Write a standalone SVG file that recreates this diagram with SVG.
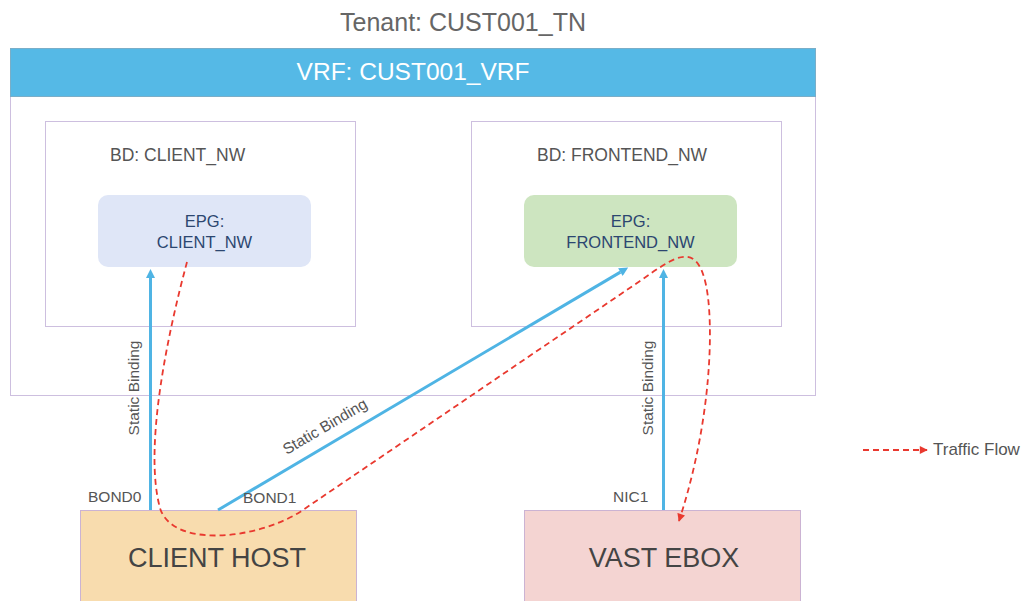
<svg xmlns="http://www.w3.org/2000/svg" width="1024" height="601" viewBox="0 0 1024 601">
  <style>
    text { font-family: "Liberation Sans", Arial, sans-serif; }
    .frame { fill: #ffffff; stroke: #cdbfdf; stroke-width: 1; }
    .bd-label { font-size: 17.5px; fill: #555555; }
    .epg-label { font-size: 16.5px; fill: #2c4670; text-anchor: middle; }
    .host-label { font-size: 27px; fill: #444444; text-anchor: middle; }
    .small { font-size: 15.5px; fill: #555555; }
    .bind { stroke: #4fb4e4; stroke-width: 3; fill: none; marker-end: url(#blueHead); }
    .flow { stroke: #e9392f; stroke-width: 1.8; fill: none; stroke-dasharray: 6 4; marker-end: url(#redHead); }
  </style>
  <defs>
    <marker id="blueHead" viewBox="0 0 10 10" refX="0" refY="5" markerWidth="10" markerHeight="9" markerUnits="userSpaceOnUse" orient="auto">
      <path d="M0,0 L10,5 L0,10 z" fill="#4fb4e4"/>
    </marker>
    <marker id="redHead" viewBox="0 0 10 10" refX="9" refY="5" markerWidth="9" markerHeight="8" markerUnits="userSpaceOnUse" orient="auto">
      <path d="M0,0 L10,5 L0,10 z" fill="#e9392f"/>
    </marker>
  </defs>

  <rect width="1024" height="601" fill="#ffffff"/>

  <!-- tenant title -->
  <text x="463" y="31" font-size="25" fill="#666666" text-anchor="middle">Tenant: CUST001_TN</text>

  <!-- VRF container -->
  <g id="vrf">
    <rect class="frame" x="10.5" y="48.5" width="805" height="347"/>
    <rect x="10.5" y="48.5" width="805" height="48" fill="#55b9e6" stroke="#7aaec8" stroke-width="1"/>
    <text x="413" y="80" font-size="24.5" fill="#ffffff" text-anchor="middle">VRF: CUST001_VRF</text>
  </g>

  <!-- bridge domains -->
  <g id="bd-client">
    <rect class="frame" x="45.5" y="121.5" width="310" height="205"/>
    <text class="bd-label" x="110" y="161">BD: CLIENT_NW</text>
  </g>
  <g id="bd-frontend">
    <rect class="frame" x="471.5" y="121.5" width="310" height="205"/>
    <text class="bd-label" x="537" y="161">BD: FRONTEND_NW</text>
  </g>

  <!-- endpoint groups -->
  <g id="epg-client">
    <rect x="98" y="195" width="213" height="72" rx="10" fill="#dfe6f7"/>
    <text class="epg-label" x="204.5" y="227">EPG:</text>
    <text class="epg-label" x="204.5" y="248">CLIENT_NW</text>
  </g>
  <g id="epg-frontend">
    <rect x="524" y="195" width="213" height="72" rx="10" fill="#cde5c0"/>
    <text class="epg-label" x="630.5" y="227">EPG:</text>
    <text class="epg-label" x="630.5" y="248">FRONTEND_NW</text>
  </g>

  <!-- hosts -->
  <g id="client-host">
    <rect x="80.5" y="510.5" width="276" height="100" fill="#f8dcae" stroke="#cbb3d3" stroke-width="1"/>
    <text class="host-label" x="217" y="567">CLIENT HOST</text>
  </g>
  <g id="vast-ebox">
    <rect x="524.5" y="510.5" width="276" height="100" fill="#f4d4d2" stroke="#cbb3d3" stroke-width="1"/>
    <text class="host-label" x="664" y="567">VAST EBOX</text>
  </g>

  <!-- connectors -->
  <g id="connectors">
    <line class="bind" x1="150.5" y1="510" x2="150.5" y2="278"/>
    <line class="bind" x1="218" y1="510" x2="620.4" y2="272.1"/>
    <line class="bind" x1="663.5" y1="510" x2="663.5" y2="278"/>
    <path class="flow" d="M187,262 C166,340 144,450 160,508 C172,548 255,540 300,512 L640,281 C672,259 696,238 706,285 C714,323 712,420 679,521"/>

    <text class="small" transform="translate(139,388) rotate(-90)" text-anchor="middle">Static Binding</text>
    <text class="small" transform="translate(327.5,431) rotate(-30.5)" text-anchor="middle">Static Binding</text>
    <text class="small" transform="translate(653,388) rotate(-90)" text-anchor="middle">Static Binding</text>

    <text class="small" x="88" y="502">BOND0</text>
    <text class="small" x="243" y="503">BOND1</text>
    <text class="small" x="613" y="502">NIC1</text>
  </g>

  <!-- legend -->
  <g id="legend">
    <line class="flow" x1="863" y1="450" x2="927" y2="450"/>
    <text x="933" y="455" font-size="17" fill="#555555">Traffic Flow</text>
  </g>
</svg>
